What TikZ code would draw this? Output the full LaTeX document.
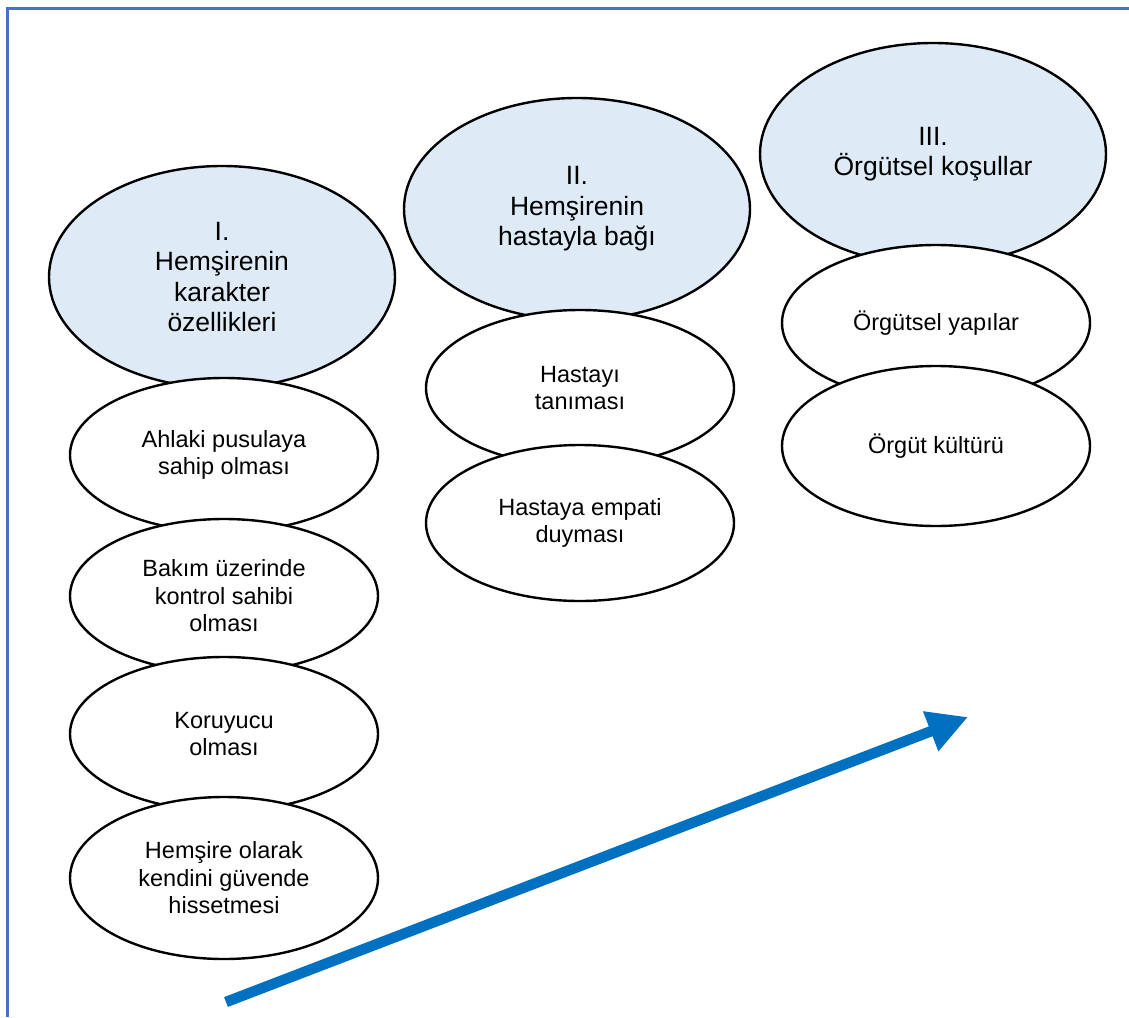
\documentclass[tikz,border=0pt]{standalone}
\usepackage{fontspec}
\setmainfont{Liberation Sans}
\usetikzlibrary{shapes.geometric,arrows.meta}
\definecolor{framec}{HTML}{4472C4}
\definecolor{bigfill}{HTML}{DEEAF6}
\definecolor{arrowc}{HTML}{0070C0}
\tikzset{
  ell/.style={ellipse, draw=black, line width=2.4pt, inner sep=0pt, align=center},
  bigell/.style={ell, fill=bigfill, minimum width=346pt, minimum height=222pt,
    font=\fontsize{26.5pt}{30.5pt}\selectfont},
  smallell/.style={ell, fill=white, minimum width=308pt, minimum height=154pt,
    font=\fontsize{23.5pt}{27.5pt}\selectfont},
  bigarrow/.style={draw=arrowc, line width=10.5pt, -{Triangle[length=40pt,width=40pt]}},
}
\begin{document}
\begin{tikzpicture}[x=1pt,y=-1pt]
\useasboundingbox (0,0) rectangle (1129,1017);
\coordinate (fa) at (7.5,1017);
\coordinate (fb) at (7.5,8.5);
\coordinate (fc) at (1129,8.5);
\draw[framec, line width=3pt] (fa) -- (fb) -- (fc);

% column I
\node[bigell] (c1) at (222,277) {I.\\Hemşirenin\\karakter\\özellikleri};
\node[smallell] (c1a) at (224,455) {Ahlaki pusulaya\\sahip olması};
\node[smallell] (c1b) at (224,596) {Bakım üzerinde\\kontrol sahibi\\olması};
\node[smallell] (c1c) at (224,734) {Koruyucu\\olması};
\node[smallell, minimum height=162pt] (c1d) at (224,878) {Hemşire olarak\\kendini güvende\\hissetmesi};

% column II
\node[bigell] (c2) at (577,209) {II.\\Hemşirenin\\hastayla bağı};
\node[smallell, minimum height=156pt] (c2a) at (580,388) {Hastayı\\tanıması};
\node[smallell, minimum height=156pt] (c2b) at (580,523) {Hastaya empati\\duyması};

% column III
\node[bigell] (c3) at (933,154) {III.\\Örgütsel koşullar};
\node[smallell, minimum height=156pt] (c3a) at (936,323) {Örgütsel yapılar};
\node[smallell, minimum height=160pt] (c3b) at (936,446) {Örgüt kültürü};

% arrow
\coordinate (as) at (226,1002);
\coordinate (ae) at (968,717);
\draw[bigarrow] (as) -- (ae);
\end{tikzpicture}
\end{document}
